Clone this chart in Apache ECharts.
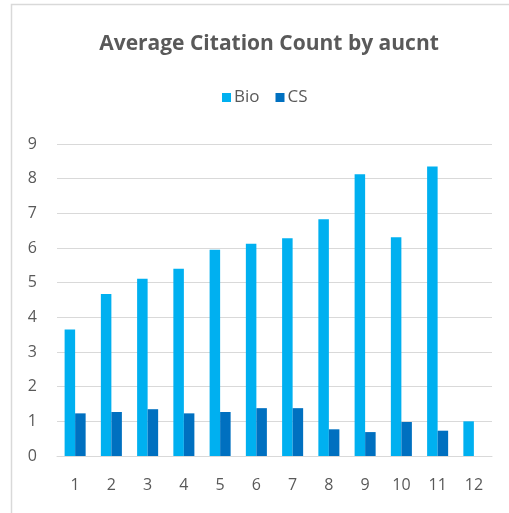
<!DOCTYPE html>
<html>
<head>
<meta charset="utf-8">
<script src="https://cdn.jsdelivr.net/npm/echarts@6/dist/echarts.min.js"></script>
<style>
  html, body { margin: 0; padding: 0; background: #ffffff; }
  #chart { width: 509px; height: 513px; }
</style>
</head>
<body>
<div id="chart"></div>
<script>
// Author count categories along the x axis
const categories = ['1', '2', '3', '4', '5', '6', '7', '8', '9', '10', '11', '12'];
// Average citation counts per field
const bioValues = [3.65, 4.67, 5.11, 5.40, 5.95, 6.12, 6.28, 6.83, 8.13, 6.31, 8.35, 1.0];
const csValues = [1.23, 1.27, 1.35, 1.23, 1.27, 1.38, 1.38, 0.77, 0.69, 0.98, 0.73, '-'];
const yTicks = [0, 1, 2, 3, 4, 5, 6, 7, 8, 9];

const labelFont = "'Open Sans', 'Liberation Sans', sans-serif";
const chart = echarts.init(document.getElementById('chart'), null, { renderer: 'canvas' });

chart.setOption({
  animation: false,
  backgroundColor: '#ffffff',
  graphic: [{
    type: 'rect',
    shape: { x: 11.5, y: 4.5, width: 520, height: 520 },
    style: { fill: 'none', stroke: '#d9d9d9', lineWidth: 1.5 },
    silent: true,
    z: -1
  }],
  title: {
    text: 'Average Citation Count by aucnt',
    left: 264, top: 29,
    textAlign: 'center',
    textStyle: { fontFamily: labelFont, fontSize: 21, fontWeight: 'bold', color: '#595959' }
  },
  legend: {
    data: ['Bio', 'CS'],
    left: 222,
    top: 89,
    padding: 0,
    itemWidth: 9, itemHeight: 9,
    itemGap: 16,
    icon: 'rect',
    textStyle: { fontFamily: labelFont, fontSize: 17, color: '#595959', padding: [0, 0, 0, -2] }
  },
  grid: { left: 57, right: 17, top: 144, bottom: 57, containLabel: false },
  xAxis: {
    type: 'category',
    data: categories,
    axisLine: { show: true, lineStyle: { color: '#d9d9d9', width: 1 } },
    axisTick: { show: false },
    axisLabel: { fontFamily: labelFont, fontSize: 16, color: '#595959', margin: 21 }
  },
  yAxis: {
    type: 'value',
    min: yTicks[0], max: yTicks[yTicks.length - 1], interval: 1,
    axisLine: { show: false },
    axisTick: { show: false },
    splitLine: { lineStyle: { color: '#d9d9d9', width: 1 } },
    axisLabel: { fontFamily: labelFont, fontSize: 16, color: '#595959', margin: 20 }
  },
  series: [
    {
      name: 'Bio', type: 'bar', data: bioValues,
      itemStyle: { color: '#00b0f0' },
      barGap: '0%', barCategoryGap: '42%'
    },
    {
      name: 'CS', type: 'bar', data: csValues,
      itemStyle: { color: '#0070c0' },
      barGap: '0%', barCategoryGap: '42%'
    }
  ]
});
</script>
</body>
</html>
